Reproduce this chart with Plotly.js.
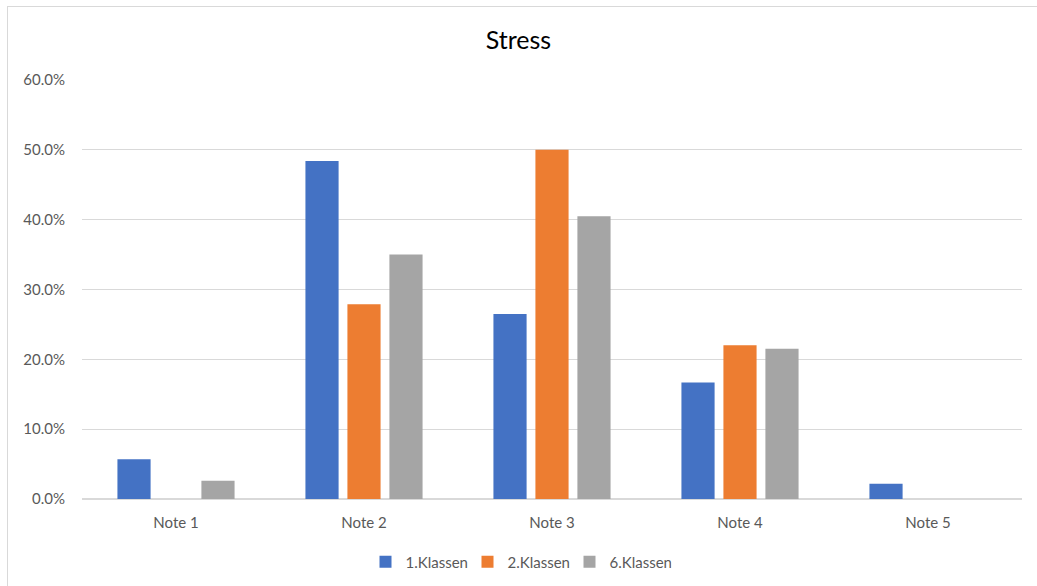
<!DOCTYPE html>
<html>
<head>
<meta charset="utf-8">
<script src="https://cdn.plot.ly/plotly-3.0.1.min.js"></script>
<style>
  html, body { margin: 0; padding: 0; background: #ffffff; overflow: hidden; }
  #frame { position: absolute; left: 7px; top: 6px; width: 1100px; height: 700px;
           border: 1px solid #d9d9d9; box-sizing: border-box; }
  #chart { position: absolute; left: 0; top: 0; width: 1037px; height: 586px; }
</style>
</head>
<body>
<div id="frame"></div>
<div id="chart"></div>
<script>
// Grade categories and share of pupils per class level
const categories = ["Note 1", "Note 2", "Note 3", "Note 4", "Note 5"];
const klassen1 = [0.057, 0.484, 0.265, 0.167, 0.022];
const klassen2 = [0.0, 0.279, 0.50, 0.22, 0.0];
const klassen6 = [0.026, 0.350, 0.405, 0.215, 0.0];
const seriesNames = ["1.Klassen", "2.Klassen", "6.Klassen"];
const seriesColors = ["#4472c4", "#ed7d31", "#a5a5a5"];
const tickVals = [0, 0.1, 0.2, 0.3, 0.4, 0.5, 0.6];
const tickText = ["0.0%", "10.0%", "20.0%", "30.0%", "40.0%", "50.0%", "60.0%"];

const font = "Lato, 'Open Sans', sans-serif";
const values = [klassen1, klassen2, klassen6];

const traces = values.map((v, i) => ({
  type: "bar",
  x: categories,
  y: v,
  name: seriesNames[i],
  marker: { color: seriesColors[i] },
  hoverinfo: "x+y+name"
}));

const layout = {
  width: 1037,
  height: 586,
  margin: { l: 82, r: 15, t: 80, b: 87 },
  paper_bgcolor: "rgba(0,0,0,0)",
  plot_bgcolor: "rgba(0,0,0,0)",
  font: { family: font, color: "#595959", size: 15 },
  title: {
    text: "Stress",
    font: { family: font, size: 25, color: "#000000" },
    x: 0.5, xanchor: "center",
    y: 1 - 40 / 586, yref: "container", yanchor: "middle"
  },
  barmode: "group",
  bargap: 0.33,
  bargroupgap: 0.21,
  xaxis: {
    type: "category",
    showgrid: false,
    showline: false,
    zeroline: false,
    ticks: "",
    tickfont: { family: font, size: 15, color: "#595959" },
    ticklabelstandoff: 13
  },
  yaxis: {
    range: [0, 0.6],
    tickvals: tickVals,
    ticktext: tickText,
    showgrid: true,
    gridcolor: "#d9d9d9",
    gridwidth: 1.3,
    zeroline: true,
    zerolinecolor: "#d9d9d9",
    zerolinewidth: 1.3,
    showline: false,
    ticks: "",
    tickfont: { family: font, size: 15, color: "#595959" },
    ticklabelstandoff: 16
  },
  showlegend: true,
  legend: {
    orientation: "h",
    x: 0.5, xanchor: "center", xref: "container",
    y: 1 - 562 / 586, yref: "container", yanchor: "middle",
    font: { family: font, size: 15, color: "#595959" },
    entrywidth: 57,
    entrywidthmode: "pixels",
    itemwidth: 30,
    tracegroupgap: 0
  }
};

Plotly.newPlot("chart", traces, layout, { displayModeBar: false, staticPlot: true });
</script>
</body>
</html>
